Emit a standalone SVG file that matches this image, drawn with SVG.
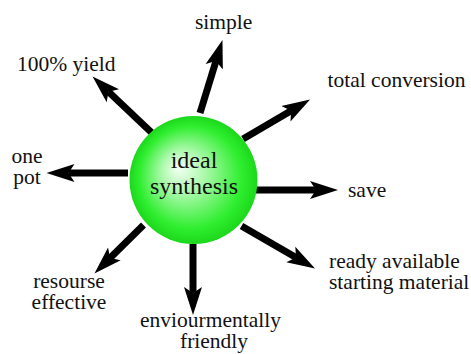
<svg xmlns="http://www.w3.org/2000/svg" width="471" height="354" viewBox="0 0 471 354">
  <style>
    .lbl { font-size: 21.5px; fill: #111; }
    .ctr { font-size: 24px; fill: #111; text-anchor: middle; }
    .mid { text-anchor: middle; }
    .arrow { stroke: #000; stroke-width: 7; fill: none; marker-end: url(#head); }
  </style>
  <defs>
    <radialGradient id="sphere" cx="0.5" cy="0.5" r="0.5" fx="0.38" fy="0.4">
      <stop offset="0" stop-color="#f6fff6"/>
      <stop offset="0.35" stop-color="#a8f9a8"/>
      <stop offset="0.8" stop-color="#2fee2f"/>
      <stop offset="1" stop-color="#1cd81c"/>
    </radialGradient>
    <marker id="head" viewBox="0 -10 30 20" refX="6" refY="0" markerWidth="30" markerHeight="20" markerUnits="userSpaceOnUse" orient="auto">
      <path d="M28,0 L0,-9 L6,0 L0,9 Z" fill="#000"/>
    </marker>
  </defs>

  <rect width="471" height="354" fill="#fff"/>

  <g id="connectors">
    <line class="arrow" x1="151.5" y1="132.5" x2="108.5" y2="91.7"/>
    <line class="arrow" x1="200" y1="113" x2="216" y2="61"/>
    <line class="arrow" x1="243" y1="139" x2="291.1" y2="110.7"/>
    <line class="arrow" x1="255" y1="190" x2="316" y2="190"/>
    <line class="arrow" x1="241.5" y1="226" x2="296" y2="257.5"/>
    <line class="arrow" x1="193" y1="244" x2="193" y2="293"/>
    <line class="arrow" x1="143.5" y1="225" x2="110.1" y2="258"/>
    <line class="arrow" x1="128" y1="173" x2="68.5" y2="173"/>
  </g>

  <g font-family="'Liberation Serif', 'Times New Roman', Times, 'DejaVu Serif', serif">
    <g id="ideal-synthesis">
      <circle cx="193.5" cy="180" r="64" fill="url(#sphere)"/>
      <text class="ctr" x="194" y="168">ideal</text>
      <text class="ctr" x="194" y="194">synthesis</text>
    </g>

    <g id="yield"><text class="lbl" x="17" y="71">100% yield</text></g>
    <g id="simple"><text class="lbl" x="195" y="29">simple</text></g>
    <g id="total-conversion"><text class="lbl" x="327.5" y="87">total conversion</text></g>
    <g id="save"><text class="lbl" x="348" y="197">save</text></g>
    <g id="starting-material">
      <text class="lbl" x="329" y="268">ready available</text>
      <text class="lbl" x="329" y="289">starting material</text>
    </g>
    <g id="environmental">
      <text class="lbl" x="140" y="327">enviourmentally</text>
      <text class="lbl" x="180" y="348">friendly</text>
    </g>
    <g id="resource">
      <text class="lbl mid" x="69" y="288">resourse</text>
      <text class="lbl mid" x="69" y="309">effective</text>
    </g>
    <g id="one-pot">
      <text class="lbl mid" x="27" y="163">one</text>
      <text class="lbl mid" x="27" y="184">pot</text>
    </g>
  </g>
</svg>
